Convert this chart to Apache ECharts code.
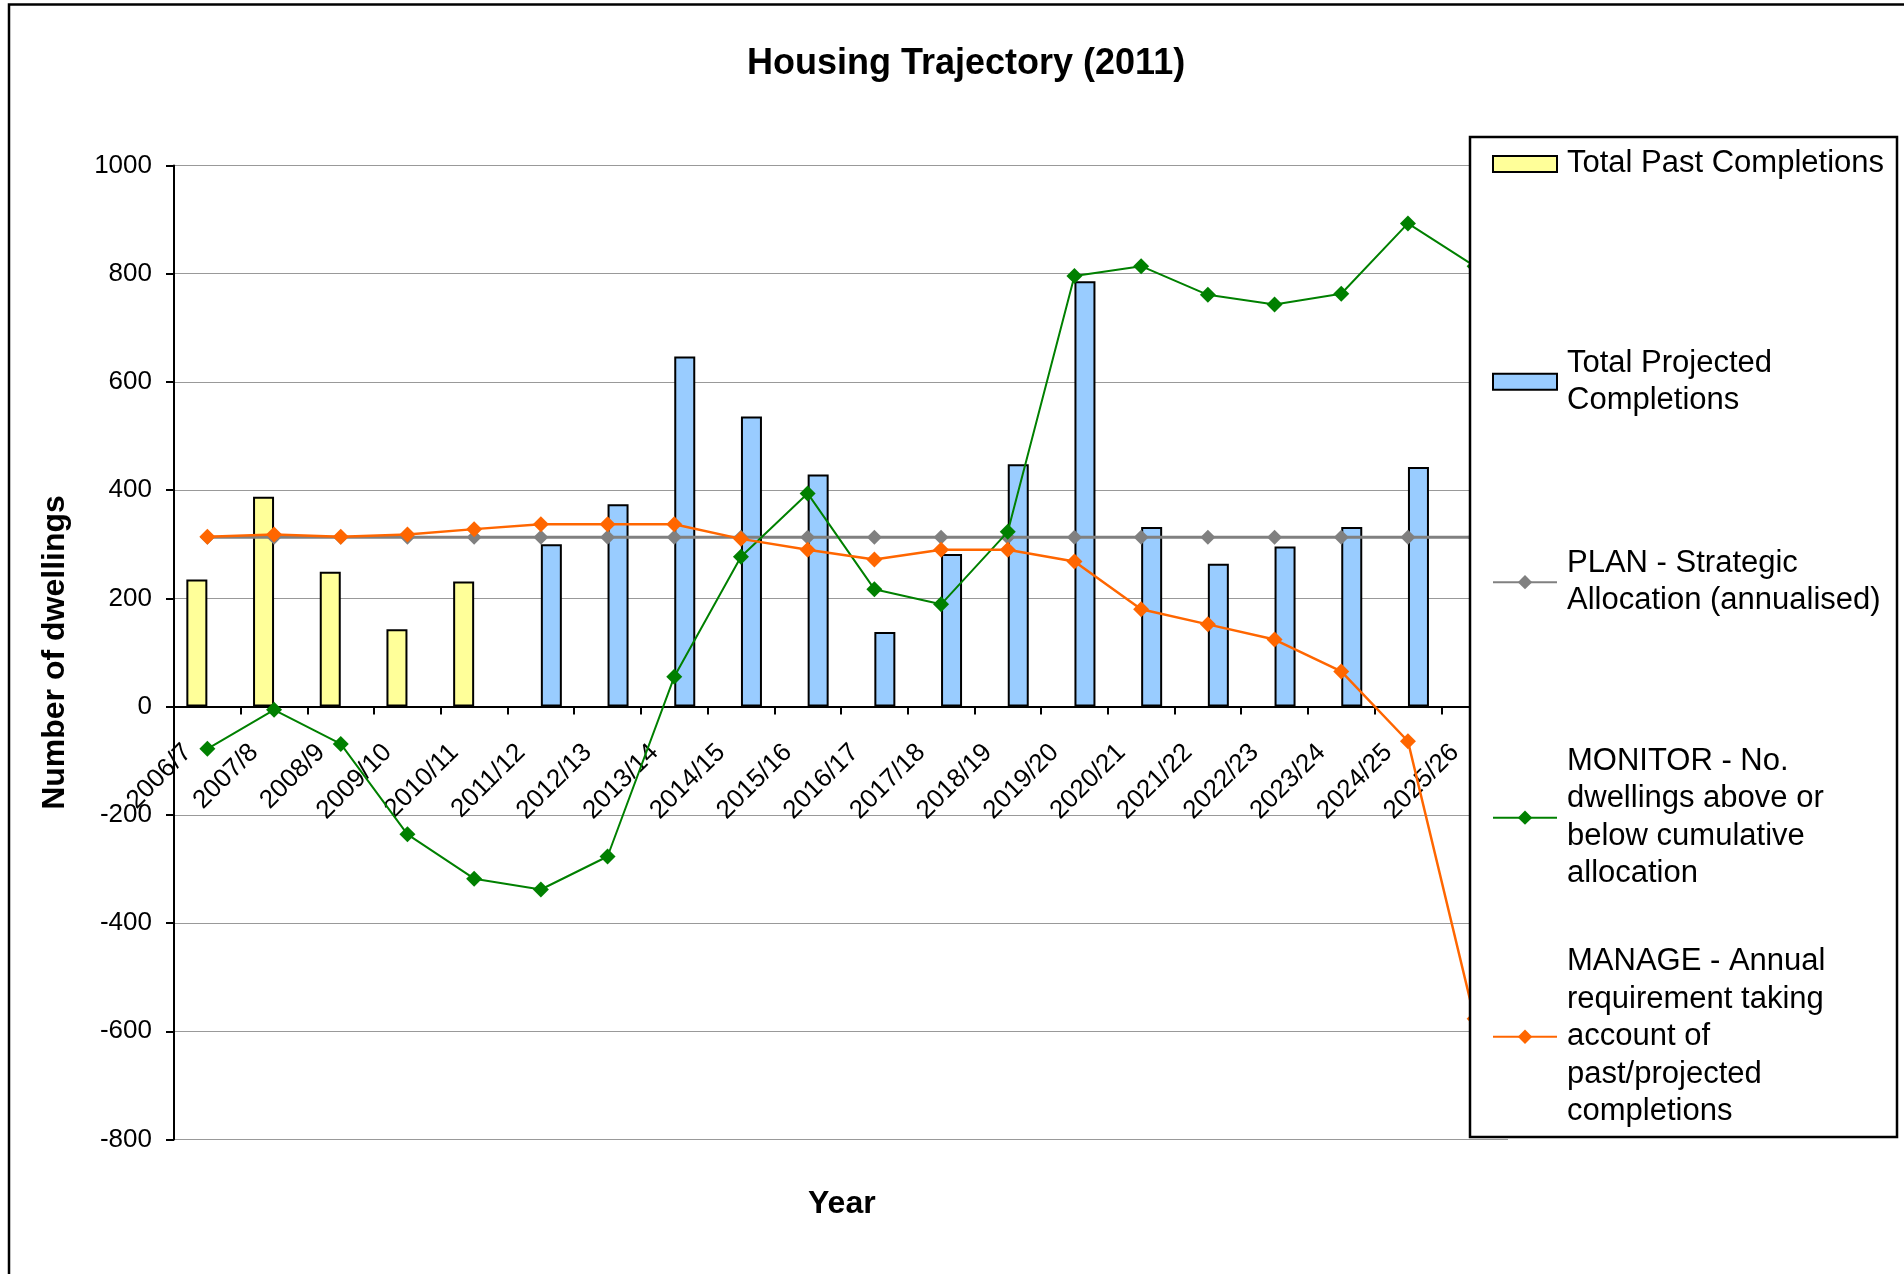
<!DOCTYPE html>
<html>
<head>
<meta charset="utf-8">
<script src="https://cdn.jsdelivr.net/npm/echarts@6/dist/echarts.min.js"></script>
<style>
html,body{margin:0;padding:0;background:#ffffff;}
#chart{width:1904px;height:1274px;}
</style>
</head>
<body>
<div id="chart"></div>
<script>
// ---- data ----
const categories = ['2006/7','2007/8','2008/9','2009/10','2010/11','2011/12','2012/13','2013/14','2014/15','2015/16',
  '2016/17','2017/18','2018/19','2019/20','2020/21','2021/22','2022/23','2023/24','2024/25','2025/26'];
const pastCompletions = [235, 388, 249, 143, 231, null, null, null, null, null,
  null, null, null, null, null, null, null, null, null, null];
const projectedCompletions = [null, null, null, null, null, 300, 374, 647, 536, 429,
  138, 282, 448, 786, 332, 264, 296, 332, 443, null];
const planAllocation = [313, 313, 313, 313, 313, 313, 313, 313, 313, 313,
  313, 313, 313, 313, 313, 313, 313, 313, 313, 313];
const monitorValues = [-78, -6, -69, -236, -318, -338, -277, 55, 277, 394,
  217, 189, 323, 796, 814, 761, 743, 763, 893, 814];
const manageValues = [314, 318, 314, 318, 328, 337, 337, 337, 310, 290,
  272, 290, 290, 268, 180, 152, 124, 65, -64, -577];
const yMin = -800, yMax = 1000, yStep = 200;

const seriesNames = [
  'Total Past Completions',
  'Total Projected Completions',
  'PLAN - Strategic Allocation (annualised)',
  'MONITOR - No. dwellings above or below cumulative allocation',
  'MANAGE - Annual requirement taking account of past/projected completions'
];
const legendText = [
  'Total Past Completions',
  'Total Projected\nCompletions',
  'PLAN - Strategic\nAllocation (annualised)',
  'MONITOR - No.\ndwellings above or\nbelow cumulative\nallocation',
  'MANAGE - Annual\nrequirement taking\naccount of\npast/projected\ncompletions'
];

// ---- layout ----
const FONT = '"Liberation Sans", Arial, Helvetica, sans-serif';
const LH = 37.5;
const firstLineY = [161.5, 360.6, 561, 759, 959.3];
const GRID_TOP = 165.5, GRID_BOTTOM = 134.5, CHART_H = 1274;
const plotH = CHART_H - GRID_TOP - GRID_BOTTOM;
const zeroY = GRID_TOP + plotH * yMax / (yMax - yMin);
const xAxisOffset = -((CHART_H - GRID_BOTTOM) - zeroY);

const legends = seriesNames.map(function (name, i) {
  const n = legendText[i].split('\n').length;
  const isBar = i < 2;
  return {
    z: 20,
    orient: 'vertical',
    left: 1492,
    top: firstLineY[i] - n * LH / 2 + 2.4,
    padding: 0,
    itemWidth: 64,
    itemHeight: isBar ? 16 : 18,
    selectedMode: false,
    data: [isBar ? {name: name, icon: 'rect'} : {name: name}],
    formatter: function () { return legendText[i]; },
    textStyle: {
      fontFamily: FONT,
      fontSize: 31,
      color: '#000',
      lineHeight: LH,
      padding: [(n - 1) * LH, 0, 0, 5]
    }
  };
});

const chart = echarts.init(document.getElementById('chart'), null, {renderer: 'canvas'});
chart.setOption({
  animation: false,
  backgroundColor: '#ffffff',
  title: [
    {
      text: 'Housing Trajectory (2011)',
      left: 742, top: 41,
      textStyle: {fontFamily: FONT, fontSize: 36, fontWeight: 'bold', color: '#000', lineHeight: 36}
    },
    {
      text: 'Year',
      left: 803, top: 1183,
      textStyle: {fontFamily: FONT, fontSize: 32, fontWeight: 'bold', color: '#000', lineHeight: 32}
    }
  ],
  legend: legends,
  graphic: [
    {
      type: 'rect', z: 0, silent: true,
      shape: {x: 9, y: 4.5, width: 2100, height: 2100},
      style: {fill: null, stroke: '#000', lineWidth: 2.5}
    },
    {
      type: 'rect', z: 10, silent: true,
      shape: {x: 1470, y: 137, width: 427, height: 1000},
      style: {fill: '#fff', stroke: '#000', lineWidth: 2.5}
    }
  ],
  grid: {left: 174, right: 396, top: GRID_TOP, bottom: GRID_BOTTOM, containLabel: false},
  xAxis: {
    type: 'category',
    data: categories,
    boundaryGap: true,
    position: 'bottom',
    offset: xAxisOffset,
    axisLine: {onZero: false, lineStyle: {color: '#000', width: 2}},
    axisTick: {show: true, inside: false, length: 8, lineStyle: {color: '#000', width: 2}},
    axisLabel: {
      interval: 0, rotate: 45, margin: 22, padding: [0, 28, 0, 0],
      fontFamily: FONT, fontSize: 26, color: '#000'
    },
    splitLine: {show: false}
  },
  yAxis: {
    type: 'value',
    min: yMin, max: yMax, interval: yStep,
    name: 'Number of dwellings',
    nameLocation: 'middle',
    nameGap: 103,
    nameTextStyle: {fontFamily: FONT, fontSize: 32, fontWeight: 'bold', color: '#000'},
    axisLine: {show: true, lineStyle: {color: '#000', width: 2}},
    axisTick: {show: true, inside: false, length: 8, lineStyle: {color: '#000', width: 2}},
    axisLabel: {
      margin: 22, fontFamily: FONT, fontSize: 26, color: '#000',
      formatter: function (v) { return String(v); }
    },
    splitLine: {show: true, lineStyle: {color: '#999', width: 1.2}}
  },
  series: [
    {
      name: seriesNames[0], type: 'bar', data: pastCompletions,
      barWidth: 21, barGap: '0%',
      itemStyle: {color: '#FFFF99', borderColor: '#000', borderWidth: 2}
    },
    {
      name: seriesNames[1], type: 'bar', data: projectedCompletions,
      barWidth: 21, barGap: '0%',
      itemStyle: {color: '#99CCFF', borderColor: '#000', borderWidth: 2}
    },
    {
      name: seriesNames[2], type: 'line', data: planAllocation,
      symbol: 'diamond', symbolSize: 15, z: 3,
      lineStyle: {color: '#808080', width: 3},
      itemStyle: {color: '#808080'}
    },
    {
      name: seriesNames[3], type: 'line', data: monitorValues,
      symbol: 'diamond', symbolSize: 16, z: 4,
      lineStyle: {color: '#008000', width: 2},
      itemStyle: {color: '#008000'}
    },
    {
      name: seriesNames[4], type: 'line', data: manageValues,
      symbol: 'diamond', symbolSize: 16, z: 5,
      lineStyle: {color: '#FF6600', width: 2.5},
      itemStyle: {color: '#FF6600'}
    }
  ]
});
</script>
</body>
</html>
